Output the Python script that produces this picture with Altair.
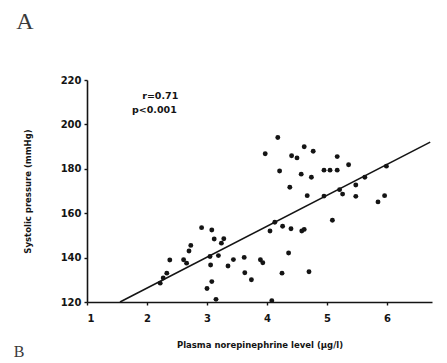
import altair as alt
import pandas as pd

# Plasma norepinephrine (ug/l) vs systolic pressure (mmHg)
norepinephrine = [
    4.18, 3.97, 4.62, 4.77, 4.41, 4.50, 5.17, 5.36, 4.21, 4.57,
    4.74, 4.95, 5.05, 5.17, 4.38, 4.67, 4.95, 5.21, 5.26, 5.48,
    5.48, 5.63, 5.99, 5.85, 5.96, 5.09, 2.91, 3.08, 3.12, 3.24,
    3.28, 2.70, 2.73, 2.38, 2.61, 2.66, 3.05, 3.19, 3.06, 3.35,
    3.44, 3.62, 3.89, 3.93, 3.63, 3.74, 4.25, 4.36, 4.70, 4.05,
    4.13, 4.26, 4.40, 4.58, 4.62, 3.08, 3.00, 3.15, 2.33, 2.27,
    2.22, 4.08,
]
systolic = [
    194.1, 186.8, 189.9, 187.9, 185.9, 184.9, 185.5, 181.8, 179.0, 177.6,
    176.2, 179.4, 179.4, 179.4, 171.7, 167.9, 167.7, 170.6, 168.6, 167.6,
    172.7, 176.2, 181.2, 165.1, 167.9, 156.8, 153.5, 152.4, 148.4, 146.5,
    148.5, 143.0, 145.5, 138.9, 139.0, 137.5, 140.5, 140.9, 136.7, 136.2,
    139.1, 140.1, 139.0, 137.7, 133.2, 130.0, 133.0, 142.1, 133.6, 152.0,
    155.9, 154.1, 153.0, 152.0, 152.7, 129.2, 126.1, 121.2, 133.0, 130.8,
    128.5, 120.6,
]

# Fitted regression line end points
fit_x = [1.55, 6.72]
fit_y = [120.0, 192.0]

stats_lines = ["r=0.71", "p<0.001"]

x_ticks = [1, 2, 3, 4, 5, 6]
y_ticks = [120, 140, 160, 180, 200, 220]

ink = "#141414"
font = "DejaVu Sans"

points = pd.DataFrame({"ne": norepinephrine, "sbp": systolic})
fit = pd.DataFrame({"ne": fit_x, "sbp": fit_y})
stats = pd.DataFrame({"label": stats_lines, "ne": [1.92, 1.75], "sbp": [213.0, 206.5]})

x_scale = alt.Scale(domain=[1, 6.75], nice=False, zero=False)
y_scale = alt.Scale(domain=[120, 220], nice=False, zero=False)

x_axis = alt.Axis(
    values=x_ticks, format="d", title="Plasma norepinephrine level (µg/l)",
    grid=False, domainColor=ink, domainWidth=1.6, tickColor=ink, tickSize=3,
    tickWidth=1.4, labelFont=font, labelFontSize=10, labelFontWeight="bold",
    labelColor=ink, labelPadding=8, titleFont=font, titleFontSize=8.5,
    titleFontWeight="bold", titleColor=ink, titlePadding=17,
)
y_axis = alt.Axis(
    values=y_ticks, format="d", title="Systolic pressure (mmHg)",
    grid=False, domainColor=ink, domainWidth=1.6, tickColor=ink, tickSize=3,
    tickWidth=1.4, labelFont=font, labelFontSize=10, labelFontWeight="bold",
    labelColor=ink, labelPadding=3, titleFont=font, titleFontSize=8.5,
    titleFontWeight="bold", titleColor=ink, titlePadding=28,
)

dots = alt.Chart(points).mark_circle(size=24, color=ink, opacity=1).encode(
    x=alt.X("ne:Q", scale=x_scale, axis=x_axis),
    y=alt.Y("sbp:Q", scale=y_scale, axis=y_axis),
)

line = alt.Chart(fit).mark_line(color=ink, strokeWidth=1.6).encode(
    x=alt.X("ne:Q", scale=x_scale),
    y=alt.Y("sbp:Q", scale=y_scale),
)

stat_text = alt.Chart(stats).mark_text(
    align="left", baseline="middle", font=font, fontSize=9.5,
    fontWeight="bold", color=ink,
).encode(
    x=alt.X("ne:Q", scale=x_scale),
    y=alt.Y("sbp:Q", scale=y_scale),
    text="label:N",
)

panel_a = alt.Chart(pd.DataFrame({"t": ["A"]})).mark_text(
    font="Liberation Serif", fontSize=24, color="#3a3a3a", align="center",
    baseline="middle",
).encode(x=alt.value(-62), y=alt.value(-58), text="t:N")

panel_b = alt.Chart(pd.DataFrame({"t": ["B"]})).mark_text(
    font="Liberation Serif", fontSize=16, color="#3a3a3a", align="center",
    baseline="middle",
).encode(x=alt.value(-68), y=alt.value(272), text="t:N")

chart = (
    alt.layer(line, dots, stat_text, panel_a, panel_b)
    .properties(
        width=345, height=222,
        autosize=alt.AutoSizeParams(type="none"),
        padding={"left": 87, "top": 80, "right": 15, "bottom": 61},
        background="white",
    )
    .configure_view(stroke=None)
)

chart.save("out.html", embed_options={"renderer": "svg", "actions": False})
